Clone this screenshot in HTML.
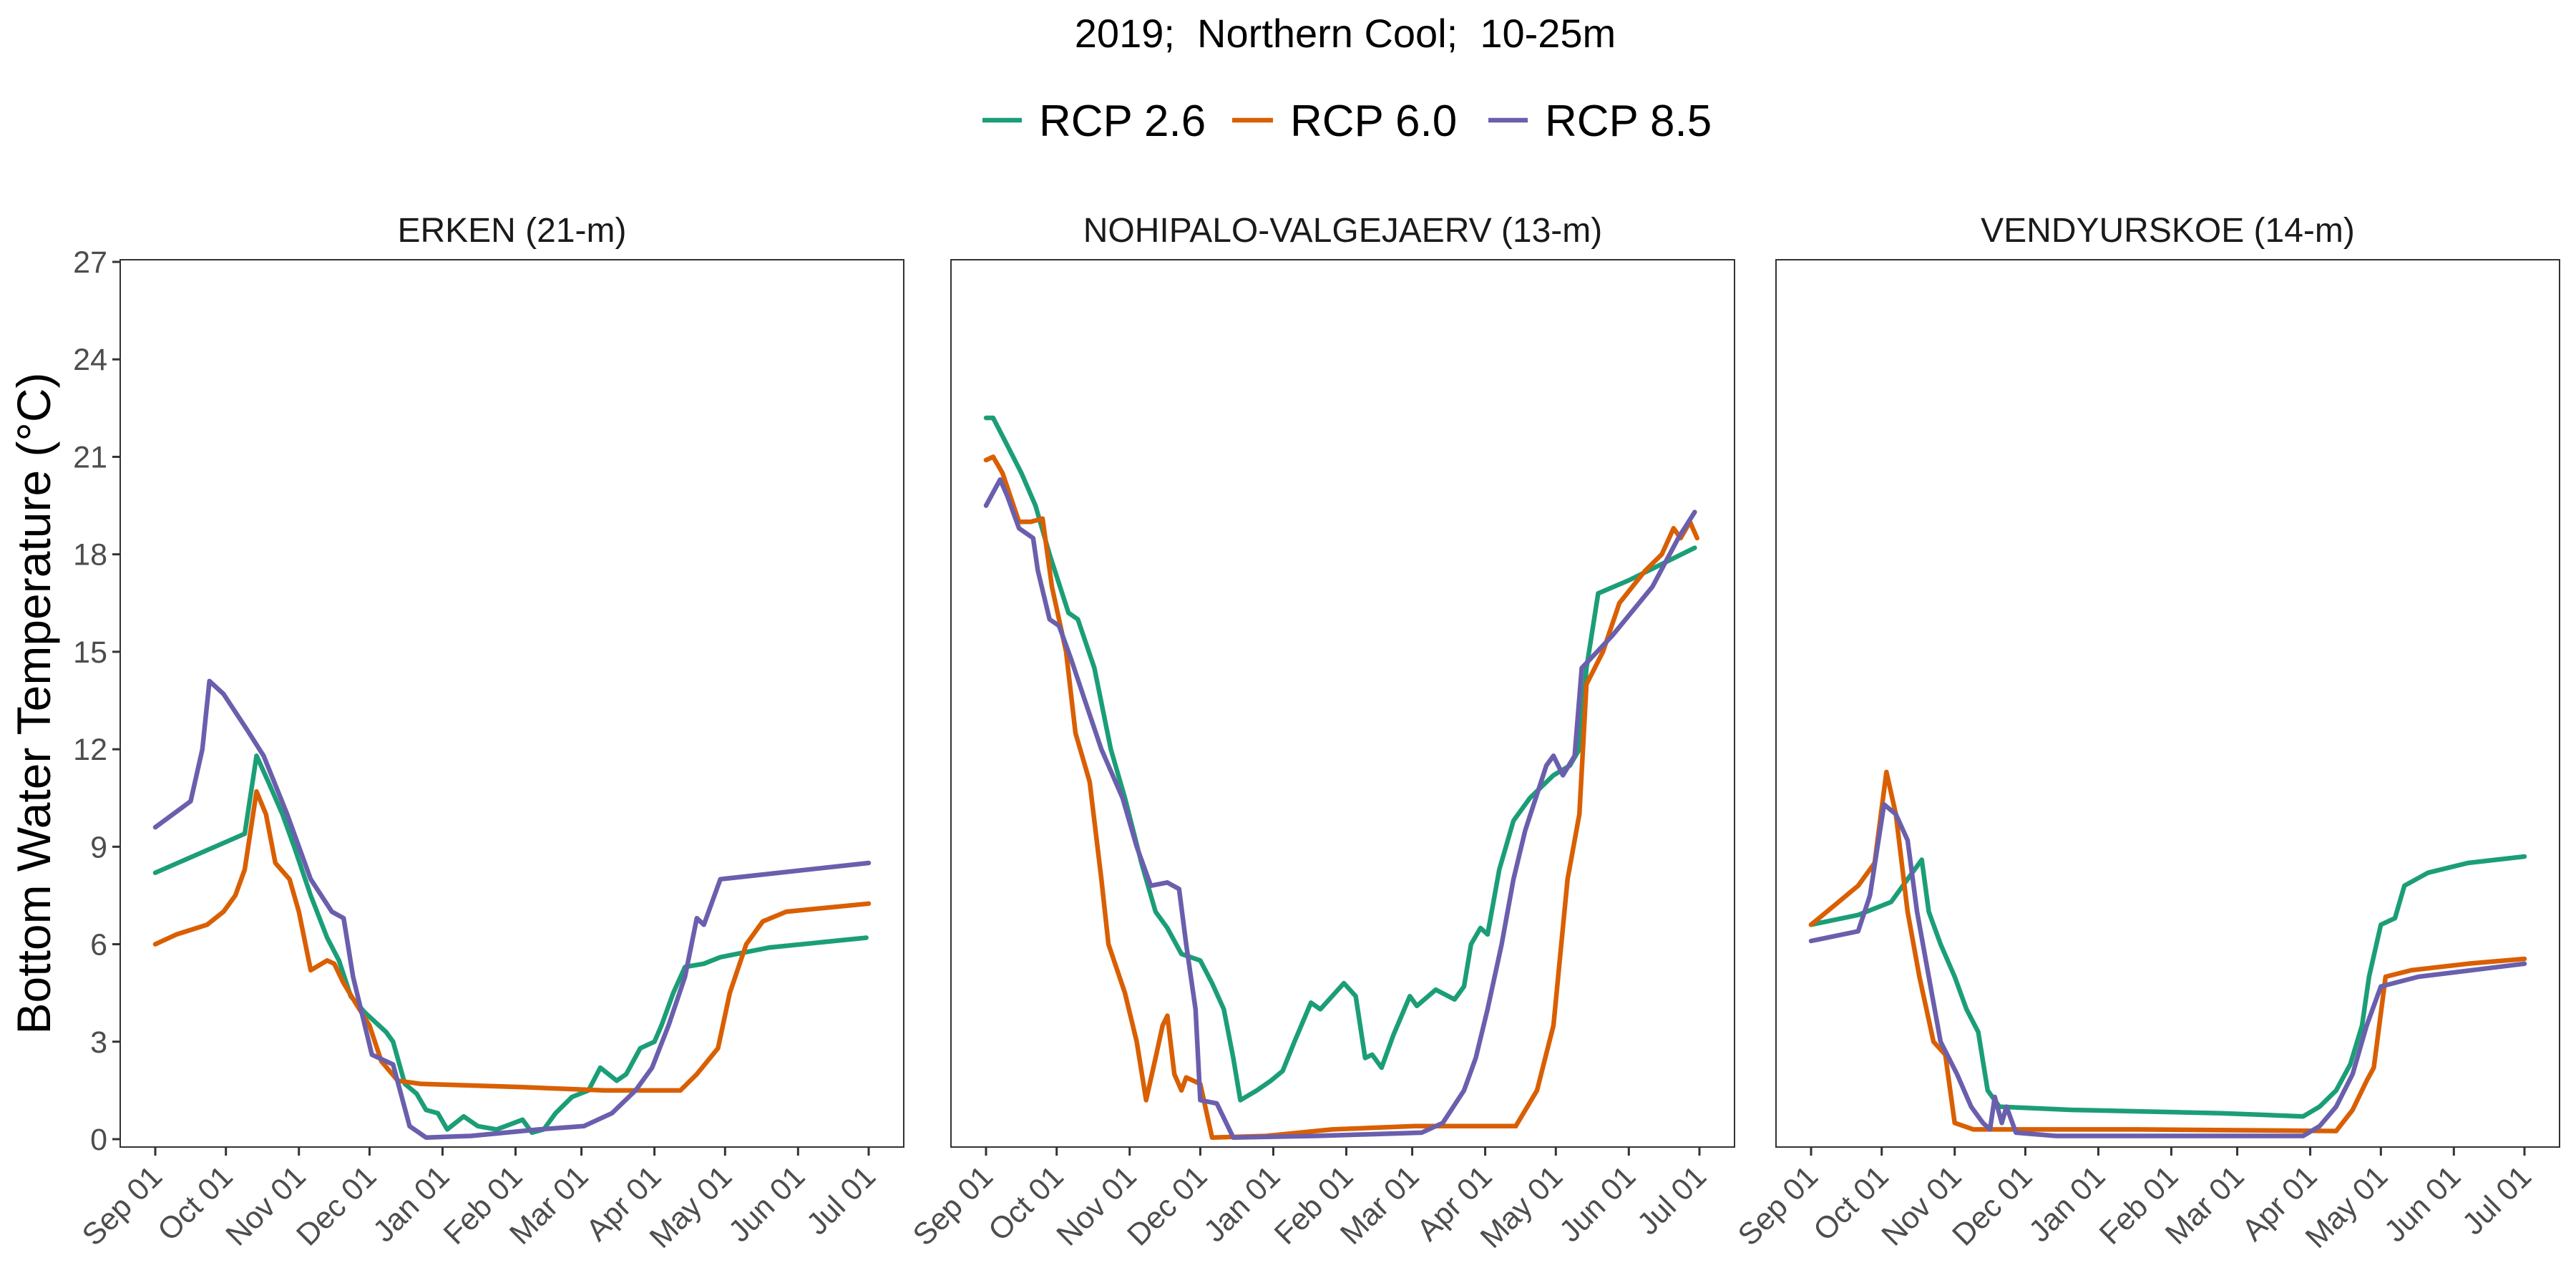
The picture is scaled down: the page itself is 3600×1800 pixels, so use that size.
<!DOCTYPE html>
<html><head><meta charset="utf-8"><style>
html,body{margin:0;padding:0;background:#fff;}
svg{display:block;font-family:"Liberation Sans",Arial,sans-serif;}
</style></head><body>
<svg id="chart" width="3600" height="1800" viewBox="0 0 3600 1800" xmlns="http://www.w3.org/2000/svg">
<rect x="0" y="0" width="3600" height="1800" fill="#fff"/>
<text x="1880" y="66" font-size="56" text-anchor="middle" fill="#000" xml:space="preserve">2019;  Northern Cool;  10-25m</text>
<g>
 <g><line x1="1373" y1="168" x2="1428" y2="168" stroke="#1b9e77" stroke-width="6.5"/><text x="1452" y="190" font-size="62" fill="#000">RCP 2.6</text></g>
 <g><line x1="1722" y1="168" x2="1779" y2="168" stroke="#d95f02" stroke-width="6.5"/><text x="1803" y="190" font-size="62" fill="#000">RCP 6.0</text></g>
 <g><line x1="2080" y1="168" x2="2135" y2="168" stroke="#6a5fad" stroke-width="6.5"/><text x="2159" y="190" font-size="62" fill="#000">RCP 8.5</text></g>
</g>
<text transform="translate(70,983) rotate(-90)" font-size="66" text-anchor="middle" fill="#000">Bottom Water Temperature (°C)</text>
<g id="panels"></g>
</svg>
<script>
// Data: day offset from Sep 01 and temperature (°C)
const monthLabels = ["Sep 01","Oct 01","Nov 01","Dec 01","Jan 01","Feb 01","Mar 01","Apr 01","May 01","Jun 01","Jul 01"];
const monthDays = [0,30,61,91,122,153,181,212,242,273,303];
const yTicks = [0,3,6,9,12,15,18,21,24,27];
const lakeNames = ["ERKEN (21-m)","NOHIPALO-VALGEJAERV (13-m)","VENDYURSKOE (14-m)"];
const seriesNames = ["RCP 2.6","RCP 6.0","RCP 8.5"];
const seriesColors = ["#1b9e77","#d95f02","#6a5fad"];

const erken26Days = [0,38,43,48,54,59,66,73,78,83,89,98,101,106,111,115,120,124,131,137,145,156,160,165,170,177,184,189,196,200,206,212,215,220,225,233,240,261,302];
const erken26Vals = [8.2,9.4,11.8,11,10,9,7.5,6.2,5.5,4.4,3.9,3.3,3.0,1.7,1.4,0.9,0.8,0.3,0.7,0.4,0.3,0.6,0.2,0.3,0.8,1.3,1.5,2.2,1.8,2.0,2.8,3.0,3.5,4.5,5.3,5.4,5.6,5.9,6.2];
const erken60Days = [0,9,22,29,34,38,43,47,51,57,61,66,73,76,80,85,91,96,103,113,156,191,223,230,239,244,251,258,268,303];
const erken60Vals = [6.0,6.3,6.6,7.0,7.5,8.3,10.7,10.0,8.5,8.0,7.0,5.2,5.5,5.4,4.8,4.2,3.5,2.4,1.8,1.7,1.6,1.5,1.5,2.0,2.8,4.5,6.0,6.7,7.0,7.25];
const erken85Days = [0,15,20,23,29,39,46,56,66,75,80,84,92,101,108,115,134,163,182,194,204,211,218,225,230,233,240,303];
const erken85Vals = [9.6,10.4,12,14.1,13.7,12.6,11.8,10,8,7,6.8,5,2.6,2.3,0.4,0.05,0.1,0.3,0.4,0.8,1.5,2.2,3.5,5,6.8,6.6,8,8.5];

const noh26Days = [0,3,8,15,21,27,35,39,46,53,59,66,72,77,83,91,96,101,105,108,115,121,126,131,138,142,147,152,157,161,164,168,173,180,183,191,199,203,206,210,213,218,224,231,241,248,252,255,260,273,301];
const noh26Vals = [22.2,22.2,21.5,20.5,19.5,18,16.2,16,14.5,12,10.5,8.5,7,6.5,5.7,5.5,4.8,4,2.5,1.2,1.5,1.8,2.1,3,4.2,4.0,4.4,4.8,4.4,2.5,2.6,2.2,3.2,4.4,4.1,4.6,4.3,4.7,6,6.5,6.3,8.3,9.8,10.5,11.2,11.5,12,14.5,16.8,17.2,18.2];
const noh60Days = [0,3,7,14,19,24,28,34,38,44,49,52,59,64,68,72,75,77,80,83,85,91,96,119,147,182,225,234,241,247,252,255,262,269,280,287,292,295,299,302];
const noh60Vals = [20.9,21,20.5,19,19,19.1,17,15,12.5,11,8,6,4.5,3,1.2,2.5,3.5,3.8,2,1.5,1.9,1.7,0.05,0.1,0.3,0.4,0.4,1.5,3.5,8,10,14,15,16.5,17.5,18,18.8,18.5,19.0,18.5];
const noh85Days = [0,6,9,14,20,22,27,31,36,42,49,58,64,70,77,82,85,89,91,98,105,140,185,194,203,208,213,219,224,229,238,241,245,250,253,266,283,294,301];
const noh85Vals = [19.5,20.3,19.8,18.8,18.5,17.5,16,15.8,14.8,13.5,12,10.5,9,7.8,7.9,7.7,6,4,1.2,1.1,0.05,0.1,0.2,0.5,1.5,2.5,4,6,8,9.5,11.5,11.8,11.2,11.8,14.5,15.5,17,18.5,19.3];

const ven26Days = [0,20,34,41,47,50,55,61,66,71,75,80,111,174,209,216,223,229,234,237,242,248,252,262,279,303];
const ven26Vals = [6.6,6.9,7.3,8.0,8.6,7,6,5,4,3.3,1.5,1.0,0.9,0.8,0.7,1.0,1.5,2.3,3.5,5,6.6,6.8,7.8,8.2,8.5,8.7];
const ven60Days = [0,10,20,27,32,36,41,46,52,57,61,69,139,223,230,236,239,244,255,279,303];
const ven60Vals = [6.6,7.2,7.8,8.5,11.3,10,7,5,3,2.6,0.5,0.3,0.3,0.25,0.9,1.8,2.2,5.0,5.2,5.4,5.55];
const ven85Days = [0,20,25,31,36,41,45,50,55,62,68,73,76,78,81,83,87,104,209,216,223,230,236,242,258,303];
const ven85Vals = [6.1,6.4,7.5,10.3,10,9.2,7,5,3,2,1,0.5,0.3,1.3,0.5,1.0,0.2,0.1,0.1,0.4,1,2,3.5,4.7,5.0,5.4];

const panelDays = [[erken26Days,erken60Days,erken85Days],[noh26Days,noh60Days,noh85Days],[ven26Days,ven60Days,ven85Days]];
const panelVals = [[erken26Vals,erken60Vals,erken85Vals],[noh26Vals,noh60Vals,noh85Vals],[ven26Vals,ven60Vals,ven85Vals]];

const NS = "http://www.w3.org/2000/svg";
const panelLefts = [168,1329,2482];
const PW = 1095, PT = 363, PB = 1603;
function xScale(p, d){ return panelLefts[p] + 49 + d * (997/303); }
function yScale(v){ return 1592 - v * (1226/27); }
function mk(tag, attrs, parent){ const e=document.createElementNS(NS,tag); for(const k in attrs) e.setAttribute(k,attrs[k]); parent.appendChild(e); return e; }

const root = document.getElementById("panels");
for (let p=0; p<3; p++){
  const g = mk("g",{},root);
  
  
  const L = panelLefts[p];
  const frame = mk("rect",{x:L,y:PT,width:PW,height:PB-PT,fill:"#fff",stroke:"#333",'stroke-width':2},g);
  
  
  const st = mk("text",{x:L+PW/2,y:338,'font-size':48,'text-anchor':'middle',fill:'#1a1a1a'},g);
  st.textContent = lakeNames[p];
  
  
  for (let i=0;i<monthDays.length;i++){
    const tx = xScale(p, monthDays[i]);
    const tk = mk("line",{x1:tx,y1:PB,x2:tx,y2:PB+12,stroke:'#333','stroke-width':3},g);
    
    
    const lb = mk("text",{transform:`translate(${tx+12},${PB+44}) rotate(-45)`,'font-size':43,'text-anchor':'end',fill:'#4d4d4d'},g);
    lb.textContent = monthLabels[i];
    
    
  }
  if (p===0){
    for (let i=0;i<yTicks.length;i++){
      const ty = yScale(yTicks[i]);
      const tk = mk("line",{x1:L-11,y1:ty,x2:L,y2:ty,stroke:'#333','stroke-width':3},g);
      
      
      const lb = mk("text",{x:L-18,y:ty+15,'font-size':43,'text-anchor':'end',fill:'#4d4d4d'},g);
      lb.textContent = String(yTicks[i]);
      
      
    }
  }
  for (let s=0;s<3;s++){
    const ds = panelDays[p][s], vs = panelVals[p][s];
    let d = "";
    for (let i=0;i<ds.length;i++) d += (i?"L":"M") + xScale(p,ds[i]).toFixed(1) + "," + yScale(vs[i]).toFixed(1);
    const path = mk("path",{d:d,fill:'none',stroke:seriesColors[s],'stroke-width':6.5,'stroke-linejoin':'round','stroke-linecap':'round'},g);
    
    
  }
}
</script>
</body></html>
